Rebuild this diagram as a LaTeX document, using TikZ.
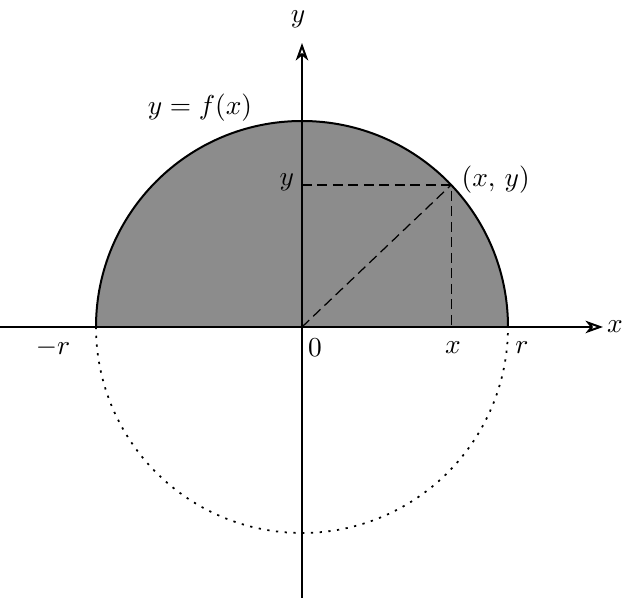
\documentclass[tikz,border=0pt]{standalone}
\usetikzlibrary{arrows.meta, positioning, calc}
\tikzset{
  axis/.style={line width=0.8pt, -{Stealth[open, length=7pt, width=5pt, inset=2pt]}},
  guide/.style={line width=0.5pt, dash pattern=on 4pt off 2.2pt},
  lowhalf/.style={line width=0.7pt, dash pattern=on 0.9pt off 2.6pt},
  lbl/.style={font=\fontsize{10.5}{12}\selectfont, inner sep=1pt},
}

\begin{document}
\begin{tikzpicture}[x=0.4pt, y=0.4pt]
  \useasboundingbox (-302,-271) rectangle (326,327);

  % --- Points ---
  \coordinate (O) at (0,0);
  \coordinate (L) at (-206,0);
  \coordinate (R) at (206,0);
  \coordinate (P) at (43.6:206);
  \coordinate (Px) at (P |- O);
  \coordinate (Py) at (P -| O);
  \coordinate (xl) at (-302,0);
  \coordinate (xr) at (301,0);
  \coordinate (yb) at (0,-271);
  \coordinate (yt) at (0,284);

  % --- Upper half disc ---
  \fill[black!45] (R) arc[start angle=0, end angle=180, radius=206] -- cycle;
  \draw[line width=0.8pt] (R) arc[start angle=0, end angle=180, radius=206];
  \draw[lowhalf] (L) arc[start angle=180, end angle=360, radius=206];

  % --- Dashed guides ---
  \draw[guide] (Py) -- (P) -- (Px);
  \draw[guide] (O) -- (P);

  % --- Axes ---
  \draw[axis] (xl) -- (xr);
  \draw[axis] (yb) -- (yt);

  % --- Labels ---
  \node[lbl, above=5pt of yt, xshift=-1.6pt] (ylab) {$y$};
  \node[lbl, right=0.5pt of xr] (xlab) {$x$};
  \node[lbl] (curve) at (-102,219) {$y = f(x)$};
  \node[lbl, right=3pt of P, yshift=2pt] (plab) {$(x,\,y)$};
  \node[lbl, left=2pt of Py, yshift=1pt] (ytick) {$y$};
  \node[lbl] (zero) at (13,-21) {$0$};
  \node[lbl] (xtick) at (151,-21) {$x$};
  \node[lbl] (rtick) at (220,-21) {$r$};
  \node[lbl] (mrtick) at (-249,-21) {$-r$};
\end{tikzpicture}
\end{document}
